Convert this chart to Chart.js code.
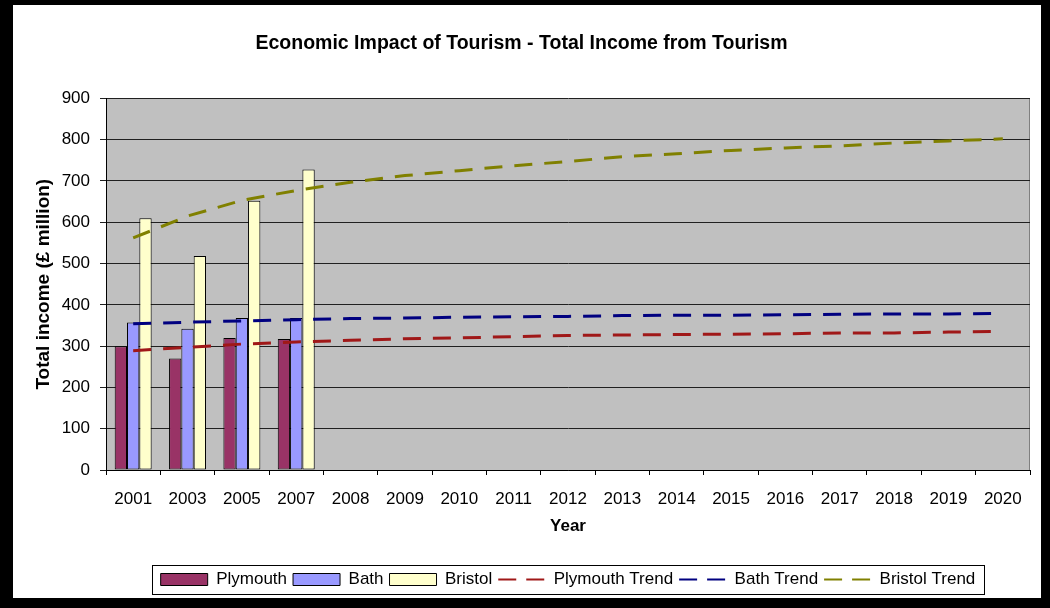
<!DOCTYPE html>
<html>
<head>
<meta charset="utf-8">
<script src="https://cdn.jsdelivr.net/npm/chart.js@4.4.1/dist/chart.umd.min.js"></script>
<style>
  html, body { margin: 0; padding: 0; background: #000; }
  #wrap { position: absolute; left: 13px; top: 5px; width: 1028px; height: 593px; background: #fff; }
</style>
</head>
<body>
<div id="wrap"><canvas id="tourismChart" width="1028" height="593"></canvas></div>
<script>
const years = ['2001', '2003', '2005', '2007', '2008', '2009', '2010', '2011', '2012',
  '2013', '2014', '2015', '2016', '2017', '2018', '2019', '2020'];

// actual income, only four survey years
const plymouth = [300, 270, 320, 317];
const bath = [357, 342, 368, 368];
const bristol = [610, 518, 652, 728];

// trend lines run to 2020
const plymouthTrend = [289, 297, 305, 310, 314, 318, 320, 323, 326, 327, 328, 329, 330, 332, 332, 334, 336];
const bathTrend = [354, 358, 361, 364, 367, 368, 370, 371, 372, 374, 375, 375, 376, 377, 378, 378, 379];
const bristolTrend = [562, 615, 653, 677, 697, 713, 725, 737, 747, 759, 766, 774, 780, 785, 792, 797, 802];

const yTicks = [0, 100, 200, 300, 400, 500, 600, 700, 800, 900];

const FONT = 'Liberation Sans, Arial, sans-serif';
Chart.defaults.font.family = FONT;
Chart.defaults.color = '#000';

function padOut(arr) {
  const out = arr.slice();
  while (out.length < years.length) out.push(null);
  return out;
}

function barSet(label, data, colour) {
  return {
    type: 'bar', label: label, data: padOut(data), order: 2,
    backgroundColor: colour, borderColor: '#000', borderWidth: 1, borderSkipped: false,
    categoryPercentage: 0.68, barPercentage: 1.0
  };
}

function trendSet(label, data, colour) {
  return {
    type: 'line', label: label, data: data, order: 1,
    borderColor: colour, backgroundColor: colour, borderWidth: 3, borderDash: [18, 12],
    pointRadius: 0, tension: 0, fill: false
  };
}

// grey plot background + right edge
const plotBackground = {
  id: 'plotBackground',
  beforeDraw(chart) {
    const a = chart.chartArea, ctx = chart.ctx;
    ctx.save();
    ctx.fillStyle = '#c0c0c0';
    ctx.fillRect(a.left, a.top, a.right - a.left, a.bottom - a.top);
    ctx.strokeStyle = '#808080';
    ctx.lineWidth = 1;
    ctx.beginPath();
    ctx.moveTo(a.right - 0.5, a.top);
    ctx.lineTo(a.right - 0.5, a.bottom);
    ctx.stroke();
    ctx.restore();
  }
};

// black frame round the legend
const legendFrame = {
  id: 'legendFrame',
  afterDraw(chart) {
    const boxes = chart.legend.legendHitBoxes;
    if (!boxes || !boxes.length) return;
    const left = Math.min(...boxes.map(b => b.left)) - 9;
    const right = Math.max(...boxes.map(b => b.left + b.width)) + 8;
    const mid = boxes[0].top + boxes[0].height / 2;
    const ctx = chart.ctx;
    ctx.save();
    ctx.strokeStyle = '#000';
    ctx.lineWidth = 1;
    ctx.strokeRect(Math.round(left) + 0.5, Math.round(mid - 15) + 0.5, Math.round(right - left), 29);
    ctx.restore();
  }
};

const ctx = document.getElementById('tourismChart');
const myChart = new Chart(ctx, {
  data: {
    labels: years,
    datasets: [
      barSet('Plymouth', plymouth, '#993366'),
      barSet('Bath', bath, '#9999ff'),
      barSet('Bristol', bristol, '#ffffcc'),
      trendSet('Plymouth Trend', plymouthTrend, '#a01818'),
      trendSet('Bath Trend', bathTrend, '#000080'),
      trendSet('Bristol Trend', bristolTrend, '#808000')
    ]
  },
  plugins: [plotBackground, legendFrame],
  options: {
    responsive: false,
    animation: false,
    layout: { padding: { left: 0, right: 11, top: 0, bottom: 0 } },
    plugins: {
      tooltip: { enabled: false },
      title: {
        display: true,
        text: 'Economic Impact of Tourism - Total Income from Tourism',
        font: { size: 19.5, weight: 'bold' },
        padding: { top: 27, bottom: 43 }
      },
      legend: {
        position: 'bottom',
        fullSize: false,
        labels: {
          usePointStyle: true,
          pointStyleWidth: 47,
          boxHeight: 12,
          padding: 6,
          font: { size: 17 },
          sort: (a, b) => a.datasetIndex - b.datasetIndex,
          generateLabels(chart) {
            const items = Chart.defaults.plugins.legend.labels.generateLabels(chart);
            items.forEach(it => {
              const ds = chart.data.datasets[it.datasetIndex];
              if (ds.type === 'line') {
                it.pointStyle = 'line';
                it.lineWidth = 2;
                it.lineDash = [18, 10];
                it.strokeStyle = ds.borderColor;
              } else {
                it.pointStyle = 'rect';
                it.lineWidth = 1;
                it.lineDash = [];
                it.strokeStyle = '#000';
              }
            });
            return items;
          }
        }
      }
    },
    scales: {
      x: {
        offset: true,
        grid: { offset: true, drawOnChartArea: false, drawTicks: true, tickLength: 5, color: '#000' },
        border: { color: '#000', width: 1 },
        ticks: { font: { size: 17 }, padding: 14, maxRotation: 0, autoSkip: false },
        title: { display: true, text: 'Year', font: { size: 17, weight: 'bold' }, padding: { top: 0, bottom: 28 } },
        afterFit(scale) { scale.height = 95; }
      },
      y: {
        min: 0,
        max: 900,
        afterBuildTicks(scale) { scale.ticks = yTicks.map(v => ({ value: v })); },
        grid: { color: '#202020', tickLength: 6, drawTicks: true },
        border: { color: '#000', width: 1 },
        ticks: { font: { size: 17 }, padding: 10 },
        title: { display: true, text: 'Total income (£ million)', font: { size: 19, weight: 'bold' }, padding: { top: 19, bottom: 0 } },
        afterFit(scale) { scale.width = 93; }
      }
    }
  }
});
</script>
</body>
</html>
